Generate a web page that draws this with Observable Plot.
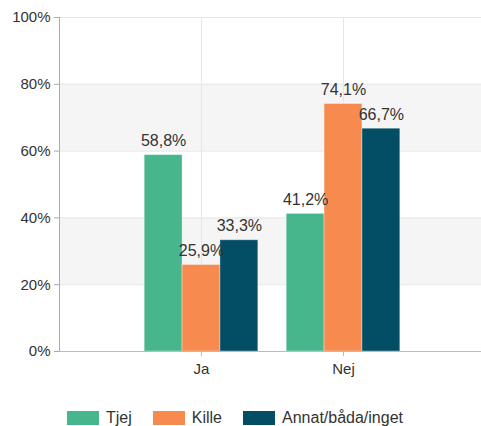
<!DOCTYPE html>
<html><head><meta charset="utf-8">
<script src="https://cdn.jsdelivr.net/npm/d3@7"></script>
<script src="https://cdn.jsdelivr.net/npm/@observablehq/plot@0.6"></script>
<style>
body{margin:0;background:#fff;font-family:"Liberation Sans",Arial,sans-serif;}
#wrap{position:relative;width:481px;height:426px;}
#legend{position:absolute;left:67px;top:409px;display:flex;align-items:center;font-size:16px;color:#333;}
.item{display:flex;align-items:center;margin-right:21px;}
.sw{width:32px;height:14px;margin-right:7px;}
</style></head>
<body><div id="wrap"><div id="chart"></div><div id="legend"></div></div>
<script>
const categories = ["Ja", "Nej"];
const series = ["Tjej", "Kille", "Annat/båda/inget"];
const colors = ["#48b68c", "#f68a4f", "#034d65"];
const valuesTjej = [0.588, 0.412];
const valuesKille = [0.259, 0.741];
const valuesAnnat = [0.333, 0.667];
const yTicks = [0, 0.2, 0.4, 0.6, 0.8, 1];

const seriesValues = [valuesTjej, valuesKille, valuesAnnat];
const groupWidth = 0.8; // fraction of category step
const barW = groupWidth / series.length;
const data = [];
categories.forEach((c, ci) => {
  series.forEach((s, si) => {
    const x1 = ci + 1 - groupWidth / 2 + si * barW;
    data.push({cat: c, series: s, value: seriesValues[si][ci], x1, x2: x1 + barW, xc: x1 + barW / 2});
  });
});
const bands = [];
for (let i = 1; i + 1 < yTicks.length; i += 2) bands.push({y1: yTicks[i], y2: yTicks[i + 1]});
const fmt = v => (v * 100).toFixed(1).replace(".", ",") + "%";

const chart = Plot.plot({
  width: 481, height: 390,
  marginLeft: 59, marginRight: 0, marginTop: 17, marginBottom: 39,
  style: {fontFamily: "'Liberation Sans', Arial, sans-serif", background: "#fff"},
  x: {domain: [0, categories.length + 1], range: [59, 485]},
  y: {domain: [0, 1]},
  color: {domain: series, range: colors},
  marks: [
    Plot.rectY(bands, {y1: "y1", y2: "y2", fill: "#f5f5f5"}),
    Plot.ruleY(yTicks.slice(1), {stroke: "#e6e6e6"}),
    Plot.ruleX(categories.map((c, i) => i + 1), {stroke: "#e6e6e6"}),
    Plot.rectY(data, {x1: "x1", x2: "x2", y1: 0, y2: "value", fill: "series", stroke: "#fff", strokeOpacity: 0.35, strokeWidth: 1}),
    Plot.ruleX([0], {stroke: "#aaa"}),
    Plot.ruleY([0], {stroke: "#bbb"}),
    Plot.axisY({ticks: yTicks, tickFormat: d => Math.round(d * 100) + "%", tickSize: 5, tickPadding: 4, fontSize: 15, fill: "#333", stroke: "#aaa", label: null}),
    Plot.axisX({ticks: categories.map((c, i) => i + 1), tickFormat: d => categories[d - 1], tickSize: 5, tickPadding: 7, fontSize: 15, fill: "#333", stroke: "#bbb", label: null}),
    Plot.text(data, {x: "xc", y: "value", text: d => fmt(d.value), dy: -14, fontSize: 16, fill: "#333"})
  ]
});
document.getElementById("chart").appendChild(chart);

const legend = document.getElementById("legend");
series.forEach((s, i) => {
  const it = document.createElement("div"); it.className = "item";
  const sw = document.createElement("div"); sw.className = "sw"; sw.style.background = colors[i];
  const t = document.createElement("span"); t.textContent = s;
  it.appendChild(sw); it.appendChild(t); legend.appendChild(it);
});
</script></body></html>
